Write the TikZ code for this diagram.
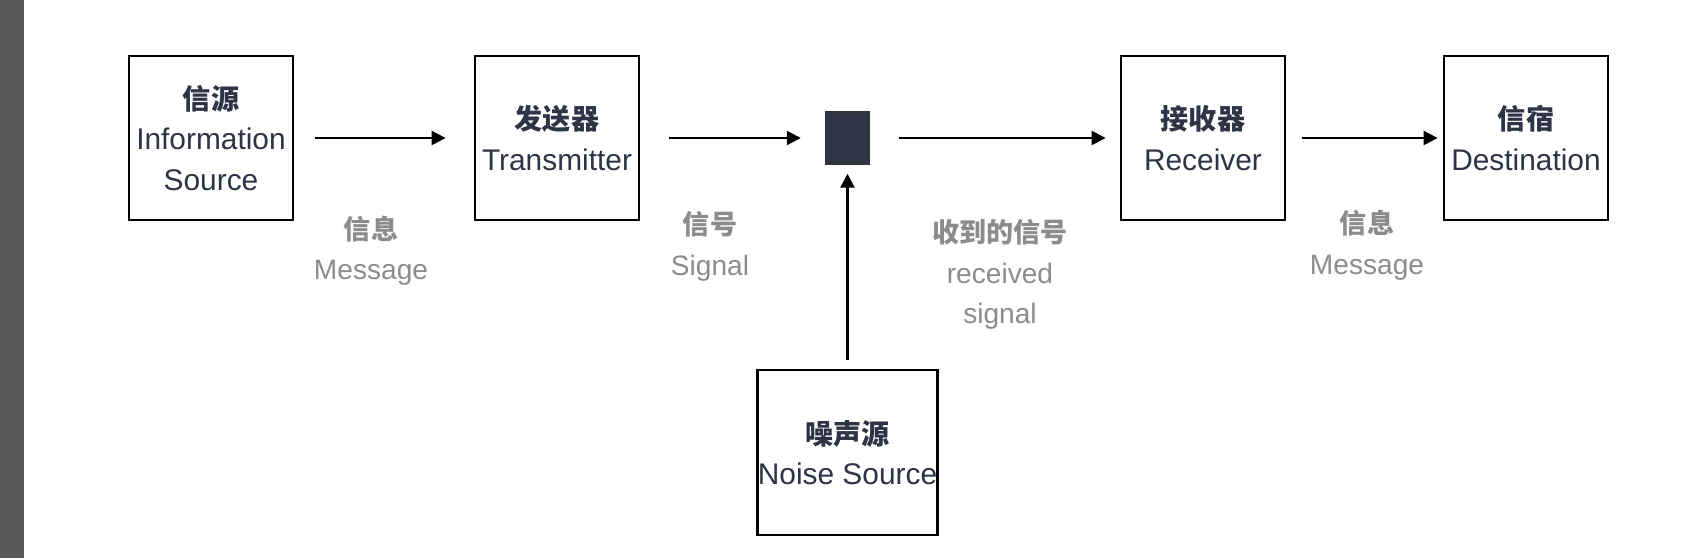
\documentclass[tikz,border=0pt]{standalone}
\usepackage{fontspec}
\setmainfont{Liberation Sans}
\newfontfamily\cjk{Noto Sans CJK SC}
\usepackage{xcolor}
\usepackage{tikz}
\usetikzlibrary{arrows.meta,positioning}
\definecolor{inkblue}{HTML}{2E3345}
\definecolor{labelgray}{HTML}{8C8C8C}
\definecolor{bargray}{HTML}{595959}
\newcommand{\zh}[1]{{\cjk\bfseries\fontsize{16}{23}\selectfont #1}}
\newcommand{\zhl}[1]{{\cjk\bfseries\fontsize{15.4}{23}\selectfont #1}}

\begin{document}
\begin{tikzpicture}[
 font=\fontsize{17}{23}\selectfont,
 unit/.style={draw=black,line width=1.6pt,minimum width=3.28cm,minimum height=3.28cm,inner sep=0pt,align=center,text=inkblue},
 chan/.style={draw=black!80,line width=0.8pt,fill=inkblue,minimum width=0.88cm,minimum height=1.04cm,inner sep=0pt},
 lbl/.style={align=center,text=labelgray,font=\fontsize{16}{23}\selectfont},
 arr/.style={-{Triangle[length=2.8mm,width=2.8mm]},line width=1.4pt,draw=black}
]
\useasboundingbox (0,0) rectangle (33.96,11.16);
\fill[bargray] (0,0) rectangle (0.48,11.16);

\node[unit] (src) at (4.22,8.40) {\zh{信源}\\Information\\Source};
\node[unit] (tx) at (11.14,8.40) {\zh{发送器}\\Transmitter};
\node[chan] (ch) at (16.95,8.40) {};
\node[unit] (rx) at (24.06,8.40) {\zh{接收器}\\Receiver};
\node[unit] (dst) at (30.52,8.40) {\zh{信宿}\\Destination};
\node[unit,minimum width=3.54cm,minimum height=3.30cm] (noise) at (16.95,2.11) {\zh{噪声源}\\Noise Source};

\draw[arr,shorten <=0.42cm,shorten >=0.56cm] (src)--(tx);
\draw[arr,shorten <=0.58cm,shorten >=0.48cm] (tx)--(ch);
\draw[arr,shorten <=0.58cm,shorten >=0.28cm] (ch)--(rx);
\draw[arr,shorten <=0.32cm,shorten >=0.10cm] (rx)--(dst);
\draw[arr,shorten <=0.18cm,shorten >=0.18cm] (noise)--(ch);

\node[lbl] (msg1) at (7.42,6.15) {\zhl{信息}\\Message};
\node[lbl] (sig) at (14.20,6.23) {\zhl{信号}\\Signal};
\node[lbl] (rsig) at (20.00,5.67) {\zhl{收到的信号}\\received\\signal};
\node[lbl] (msg2) at (27.34,6.26) {\zhl{信息}\\Message};
\end{tikzpicture}
\end{document}
